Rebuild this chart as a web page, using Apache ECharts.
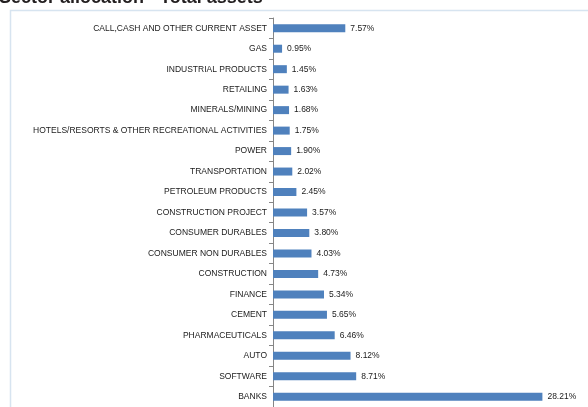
<!DOCTYPE html>
<html><head><meta charset="utf-8">
<script src="https://cdn.jsdelivr.net/npm/echarts@6/dist/echarts.min.js"></script>
<style>html,body{margin:0;padding:0;background:#fff}#c{width:588px;height:407px}</style>
</head><body><div id="c"></div>
<script>
const categories = ["CALL,CASH AND OTHER CURRENT ASSET","GAS","INDUSTRIAL PRODUCTS","RETAILING","MINERALS/MINING","HOTELS/RESORTS & OTHER RECREATIONAL ACTIVITIES","POWER","TRANSPORTATION","PETROLEUM PRODUCTS","CONSTRUCTION PROJECT","CONSUMER DURABLES","CONSUMER NON DURABLES","CONSTRUCTION","FINANCE","CEMENT","PHARMACEUTICALS","AUTO","SOFTWARE","BANKS"];
const values = [7.57,0.95,1.45,1.63,1.68,1.75,1.90,2.02,2.45,3.57,3.80,4.03,4.73,5.34,5.65,6.46,8.12,8.71,28.21];
const titleText = "Sector allocation - Total assets";
const font = "Liberation Sans";
const chart = echarts.init(document.getElementById('c'));
chart.setOption({
  animation:false,
  graphic:[
    {type:'rect',shape:{x:10.5,y:10.5,width:700,height:500},style:{fill:'none',stroke:'#d7e4f0',lineWidth:1.5},z:-1},
    {type:'text',left:-1,top:-11,style:{text:titleText,font:'bold 18px "Liberation Sans"',fill:'#231f20'}}
  ],
  grid:{left:273,top:18,width:286.5,height:391,containLabel:false},
  xAxis:{type:'value',min:0,max:30,show:false},
  yAxis:{type:'category',data:categories,inverse:true,
    axisLine:{lineStyle:{color:'#868686',width:1}},
    axisTick:{show:true,length:4,lineStyle:{color:'#868686'}},
    axisLabel:{fontFamily:font,fontSize:8.5,color:'#1a1a1a',margin:6,interval:0}},
  series:[{type:'bar',data:values,barWidth:8,itemStyle:{color:'#4f81bd'},
    label:{show:true,position:'right',distance:5,fontFamily:font,fontSize:8.5,color:'#1a1a1a',
      formatter:p=>p.value.toFixed(2)+'%'}}]
});
</script></body></html>
